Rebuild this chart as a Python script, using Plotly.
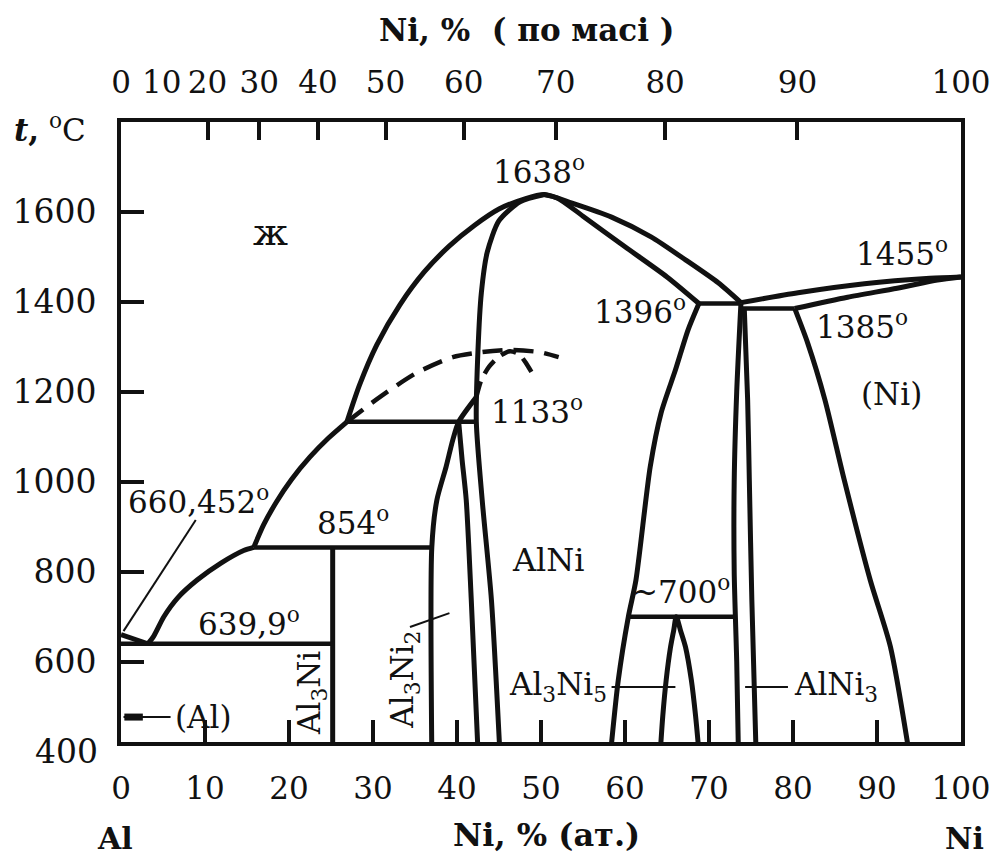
import plotly.graph_objects as go

# ---- Al-Ni phase diagram: composition in at.% Ni, temperature in deg C ----

# Al-rich liquidus down to the eutectic
liq_al_x = [0.0, 3.2]
liq_al_t = [660.452, 639.9]

# liquidus: eutectic -> 854 peritectic
liq_low_x = [3.2, 3.9, 5.1, 6.75, 9.1, 11.9, 14.6, 15.8]
liq_low_t = [639.9, 657, 700, 742, 782, 819, 847, 854]

# liquidus: 854 -> 1133 peritectic
liq_mid_x = [15.8, 17.0, 18.5, 20.3, 22.5, 24.7, 26.9]
liq_mid_t = [854, 905, 955, 1005, 1055, 1097, 1133]

# liquidus: 1133 -> AlNi maximum -> Ni3Al peritectic
liq_top_x = [26.9, 28.4, 30.45, 33.2, 36.1, 39.1, 42.1, 45.0, 48.0, 50.4,
             53.7, 58.4, 63.1, 67.2, 71.1, 73.8]
liq_top_t = [1133, 1215, 1304, 1393, 1466, 1524, 1570, 1606, 1628, 1638,
             1619, 1588, 1544, 1493, 1442, 1398]

# AlNi boundary on the Al side (solidus + solvus)
alni_left_x = [50.4, 47.5, 45.0, 43.6, 42.9, 42.5, 42.3, 43.0, 44.1, 45.1]
alni_left_t = [1638, 1622, 1580, 1510, 1420, 1293, 1133, 959, 737, 400]

# AlNi solidus on the Ni side
alni_sol_x = [50.4, 52.0, 55.0, 60.0, 65.0, 68.8]
alni_sol_t = [1638, 1630, 1590, 1522, 1455, 1396]

# AlNi solvus on the Ni side
alni_right_x = [68.8, 67.5, 66.0, 64.3, 63.0, 61.3, 60.4, 59.2, 58.3]
alni_right_t = [1396, 1337, 1248, 1153, 1033, 781, 700, 559, 400]

# Al3Ni2 boundaries
al3ni2_left_x = [37.0, 37.0, 37.6, 38.7, 39.5, 40.2, 42.3]
al3ni2_left_t = [400, 854, 959, 1033, 1093, 1133, 1188]
al3ni2_right_x = [40.2, 40.6, 41.1, 41.7, 42.5]
al3ni2_right_t = [1133, 1050, 959, 737, 400]

# metastable (dashed) curves above 1133
meta_liq_x = [26.9, 30.8, 35.2, 39.5, 43.0, 46.2, 49.8, 52.1]
meta_liq_t = [1133, 1188, 1242, 1277, 1288, 1293, 1288, 1277]
meta_dome_x = [42.3, 42.9, 43.8, 45.0, 46.3, 47.4, 48.2, 49.2]
meta_dome_t = [1188, 1226, 1255, 1278, 1290, 1283, 1264, 1233]

# Al3Ni line compound
al3ni_x = [25.2, 25.2]
al3ni_t = [854, 400]

# Al3Ni5 dome
al3ni5_x = [64.2, 64.5, 64.9, 65.4, 65.8, 66.1, 66.6, 67.2, 67.9, 68.4, 68.8]
al3ni5_t = [400, 480, 559, 630, 670, 700, 670, 633, 559, 480, 400]

# AlNi3 boundaries
alni3_left_x = [73.8, 73.3, 73.0, 73.0, 73.3, 73.5]
alni3_left_t = [1396, 1200, 1000, 800, 600, 400]
alni3_right_x = [74.2, 74.6, 74.8, 75.1, 75.6]
alni3_right_t = [1385, 1182, 1004, 737, 400]

# (Ni) solvus, liquidus and solidus
ni_solvus_x = [80.2, 81.75, 83.8, 86.1, 89.2, 91.6, 93.8]
ni_solvus_t = [1385, 1308, 1182, 1004, 781, 633, 400]
ni_liq_x = [73.8, 80.6, 88.5, 96.3, 100.0]
ni_liq_t = [1398, 1420, 1440, 1452, 1455]
ni_sol_x = [80.2, 86.5, 92.4, 97.2, 100.0]
ni_sol_t = [1385, 1410, 1430, 1448, 1455]

# invariant horizontals: (x_start, x_end, temperature)
isotherms = [
    (0.0, 25.2, 639.9),
    (15.8, 37.0, 854),
    (26.9, 42.3, 1133),
    (68.8, 73.8, 1396),
    (73.8, 80.2, 1385),
    (60.4, 73.0, 700),
]

# thin leader lines
leaders = [
    ([0.3, 8.9], [668, 915]),        # 660,452
    ([34.4, 39.1], [677, 708]),      # Al3Ni2
    ([0.3, 5.9], [477, 477]),        # (Al)
    ([58.4, 66.0], [544, 544]),      # Al3Ni5
    ([74.3, 79.4], [544, 544]),      # AlNi3
]

# labels inside the diagram: (text, x, t, angle, size)
labels = [
    ("ж", 17.8, 1555, 0, 38),
    ("1638<sup>o</sup>", 49.8, 1692, 0, 31),
    ("1455<sup>o</sup>", 93.0, 1510, 0, 31),
    ("1396<sup>o</sup>", 61.8, 1382, 0, 31),
    ("1385<sup>o</sup>", 88.2, 1348, 0, 31),
    ("(Ni)", 91.7, 1196, 0, 31),
    ("1133<sup>o</sup>", 49.5, 1159, 0, 31),
    ("854<sup>o</sup>", 27.6, 913, 0, 31),
    ("639,9<sup>o</sup>", 15.2, 688, 0, 31),
    ("660,452<sup>o</sup>", 9.2, 959, 0, 31),
    ("AlNi", 50.9, 826, 0, 32),
    ("~700<sup>o</sup>", 66.7, 759, 0, 31),
    ("Al<sub>3</sub>Ni<sub>5</sub>", 52.0, 544, 0, 31),
    ("AlNi<sub>3</sub>", 85.1, 544, 0, 31),
    ("(Al)", 9.8, 477, 0, 31),
    ("Al<sub>3</sub>Ni", 22.7, 530, -90, 31),
    ("Al<sub>3</sub>Ni<sub>2</sub>", 33.8, 560, -90, 31),
]

# axis ticks
at_ticks = [0, 10, 20, 30, 40, 50, 60, 70, 80, 90, 100]
t_ticks = [600, 800, 1000, 1200, 1400, 1600]
t_low_label = 400
wt_labels = [0, 10, 20, 30, 40, 50, 60, 70, 80, 90, 100]
wt_marks = [20, 30, 40, 50, 60, 70, 80, 90]

M_AL, M_NI = 26.98, 58.69


def wt_to_at(w):
    n_ni = w / M_NI
    n_al = (100 - w) / M_AL
    return 100 * n_ni / (n_ni + n_al)


INK = "#111111"
FONT = "DejaVu Serif"
T_MIN, T_MAX = 421.6, 1799.3
LW = 5

fig = go.Figure()


def curve(x, y, width=LW, dash="solid", spline=True):
    fig.add_trace(go.Scatter(
        x=x, y=y, mode="lines", hoverinfo="skip", showlegend=False,
        line=dict(color=INK, width=width, dash=dash,
                  shape="spline" if spline else "linear", smoothing=0.7)))


curve(liq_al_x, liq_al_t, spline=False)
curve(liq_low_x, liq_low_t)
curve(liq_mid_x, liq_mid_t)
curve(liq_top_x, liq_top_t)
curve(alni_left_x, alni_left_t)
curve(alni_sol_x, alni_sol_t)
curve(alni_right_x, alni_right_t)
curve(al3ni2_left_x, al3ni2_left_t)
curve(al3ni2_right_x, al3ni2_right_t)
curve(meta_liq_x, meta_liq_t, width=4.5, dash="20px,11px")
curve(meta_dome_x, meta_dome_t, width=4.5, dash="16px,9px")
curve(al3ni_x, al3ni_t, spline=False)
curve(al3ni5_x, al3ni5_t)
curve(alni3_left_x, alni3_left_t)
curve(alni3_right_x, alni3_right_t)
curve(ni_solvus_x, ni_solvus_t)
curve(ni_liq_x, ni_liq_t)
curve(ni_sol_x, ni_sol_t)

for x0, x1, t in isotherms:
    curve([x0, x1], [t, t], width=4.5, spline=False)

for lx, lt in leaders:
    curve(lx, lt, width=2, spline=False)

# the narrow (Al) field marked by a short heavy stroke
curve([0.4, 2.6], [477, 477], width=7, spline=False)

# empty traces bind the two top axes
fig.add_trace(go.Scatter(x=[None], y=[None], xaxis="x2", yaxis="y",
                         showlegend=False, hoverinfo="skip"))
fig.add_trace(go.Scatter(x=[None], y=[None], xaxis="x3", yaxis="y",
                         showlegend=False, hoverinfo="skip"))

for text, x, t, ang, size in labels:
    fig.add_annotation(x=x, y=t, xref="x", yref="y", text=text,
                       showarrow=False, textangle=ang,
                       xanchor="center", yanchor="middle",
                       font=dict(family=FONT, size=size, color=INK))

# lowest temperature label sits just below the lower frame line
fig.add_annotation(x=0, y=(t_low_label - T_MIN) / (T_MAX - T_MIN),
                   xref="paper", yref="paper", text=str(t_low_label),
                   xanchor="right", yanchor="middle", showarrow=False,
                   xshift=-21, font=dict(family=FONT, size=33, color=INK))


def caption(text, x, y, size):
    fig.add_annotation(x=x, y=y, xref="paper", yref="paper", text=text,
                       showarrow=False, xanchor="center", yanchor="middle",
                       font=dict(family=FONT, size=size, color=INK))


caption("<b>Ni, %  ( по масі )</b>", 0.483, 1.148, 31)
caption("<b>Ni, % (ат.)</b>", 0.507, -0.15, 32)
caption("<b>Al</b>", -0.007, -0.155, 30)
caption("<b>Ni</b>", 1.004, -0.155, 30)
caption("<b><i>t</i>,</b> <sup>o</sup>C", -0.084, 0.99, 31)

axis_common = dict(showgrid=False, zeroline=False, tickcolor=INK)

fig.update_layout(
    width=1003, height=858,
    margin=dict(l=120, r=39, t=122, b=116),
    paper_bgcolor="white", plot_bgcolor="white",
    showlegend=False,
    font=dict(family=FONT, color=INK, size=29),
    xaxis=dict(range=[0, 100], tickvals=at_ticks,
               ticktext=[str(v) for v in at_ticks],
               ticks="inside", ticklen=22, tickwidth=4,
               showline=True, linewidth=4, linecolor=INK, mirror=True,
               tickfont=dict(size=31), ticklabelstandoff=16,
               **axis_common),
    yaxis=dict(range=[T_MIN, T_MAX], tickvals=t_ticks,
               ticktext=[str(v) for v in t_ticks],
               ticks="inside", ticklen=23, tickwidth=4,
               showline=True, linewidth=4, linecolor=INK, mirror=True,
               tickfont=dict(size=33), ticklabelstandoff=14,
               **axis_common),
    xaxis2=dict(range=[0, 100], overlaying="x", side="top", anchor="y",
                tickvals=[wt_to_at(w) for w in wt_labels],
                ticktext=[str(w) for w in wt_labels],
                ticks="", showline=False, tickfont=dict(size=31),
                ticklabelstandoff=22, **axis_common),
    xaxis3=dict(range=[0, 100], overlaying="x", side="top", anchor="y",
                tickvals=[wt_to_at(w) for w in wt_marks],
                ticks="inside", ticklen=18, tickwidth=4,
                showticklabels=False, showline=False, **axis_common),
)

fig.write_html("out.html")
